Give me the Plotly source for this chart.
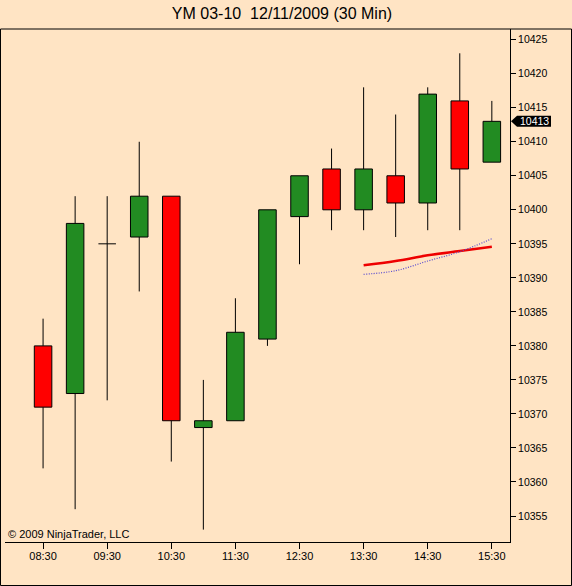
import pandas as pd
import plotly.graph_objects as go

# ---- data ----
times = pd.date_range("2009-12-11 08:30", "2009-12-11 15:30", freq="30min")
opens = [10380, 10373, 10395, 10396, 10402, 10368, 10369, 10381, 10399, 10406, 10400, 10405, 10401, 10416, 10407]
highs = [10384, 10402, 10402, 10410, 10402, 10375, 10387, 10400, 10405, 10409, 10418, 10414, 10418, 10423, 10416]
lows = [10362, 10356, 10372, 10388, 10363, 10353, 10369, 10380, 10392, 10397, 10397, 10396, 10397, 10397, 10407]
closes = [10371, 10398, 10395, 10402, 10369, 10369, 10382, 10400, 10405, 10400, 10406, 10401, 10417, 10406, 10413]

ma_times = times[-5:]
ma_red = [10391.84, 10392.47, 10393.31, 10393.94, 10394.58]
ma_blue = [10390.52, 10391.05, 10392.47, 10393.84, 10395.75]

last_price = 10413
title_text = "YM 03-10  12/11/2009 (30 Min)"
copyright_text = "© 2009 NinjaTrader, LLC"

# ---- styles ----
BG = "#FFE4C4"
UP = "#228B22"
DOWN = "#FF0000"
FONT = "Liberation Sans, Arial, sans-serif"
body_w = pd.Timedelta(minutes=16.4)

fig = go.Figure()

# wicks
wx, wy = [], []
for t, o, h, l, c in zip(times, opens, highs, lows, closes):
    top, bot = max(o, c), min(o, c)
    if h > top:
        wx += [t, t, None]
        wy += [top, h, None]
    if l < bot:
        wx += [t, t, None]
        wy += [l, bot, None]
    if o == c:
        wx += [t - body_w / 2, t + body_w / 2, None]
        wy += [o, o, None]
fig.add_trace(go.Scatter(x=wx, y=wy, mode="lines", line=dict(color="black", width=1),
                         hoverinfo="skip", showlegend=False))

# bodies
bx, by, bb, bc = [], [], [], []
for t, o, c in zip(times, opens, closes):
    if o == c:
        continue
    bx.append(t)
    by.append(abs(c - o))
    bb.append(min(o, c))
    bc.append(UP if c > o else DOWN)
fig.add_trace(go.Bar(x=bx, y=by, base=bb, width=body_w.total_seconds() * 1000,
                     marker=dict(color=bc, line=dict(color="black", width=1)),
                     showlegend=False))

# moving averages
fig.add_trace(go.Scatter(x=ma_times, y=ma_red, mode="lines",
                         line=dict(color="#EE0000", width=2.5, shape="spline"), showlegend=False))
fig.add_trace(go.Scatter(x=ma_times, y=ma_blue, mode="lines",
                         line=dict(color="#5548D0", width=1.2, dash="1px,1.5px", shape="spline"),
                         showlegend=False))

fig.update_layout(
    width=572, height=586,
    margin=dict(l=5, r=62, t=29, b=44),
    paper_bgcolor=BG, plot_bgcolor=BG,
    barmode="overlay",
    font=dict(family=FONT, color="black"),
    title=dict(text=title_text, x=0.493, xanchor="center", y=0.9775, yanchor="middle",
               font=dict(family=FONT, size=16, color="black")),
    xaxis=dict(
        type="date",
        range=["2009-12-11 07:54:22", "2009-12-11 15:47:00"],
        tick0="2009-12-11 08:30", dtick=3600000, tickformat="%H:%M",
        showgrid=False, zeroline=False,
        showline=True, linecolor="black", linewidth=1,
        ticks="outside", ticklen=6, tickcolor="black", tickwidth=1,
        ticklabelstandoff=-2,
        tickfont=dict(family=FONT, size=11, color="black"),
        automargin=False, fixedrange=True,
    ),
    yaxis=dict(
        side="right",
        range=[10351.18, 10426.57],
        tickmode="linear", tick0=10355, dtick=5, tickformat="d",
        showgrid=False, zeroline=False,
        showline=True, linecolor="black", linewidth=1,
        ticks="outside", ticklen=5, tickcolor="black", tickwidth=1,
        tickfont=dict(family=FONT, size=10.5, color="black"),
        automargin=False, fixedrange=True,
    ),
    shapes=[
        dict(type="rect", xref="paper", yref="paper",
             x0=(0.5 - 5) / 505, x1=(571.5 - 5) / 505,
             y0=(542 - 585.5) / 513, y1=1.0,
             line=dict(color="black", width=1), fillcolor="rgba(0,0,0,0)", layer="above"),
        dict(type="path", xref="paper", yref="y", xsizemode="pixel", ysizemode="pixel",
             xanchor=1, yanchor=last_price,
             path="M1,0 L7,5.5 L41,5.5 L41,-5.5 L7,-5.5 Z",
             fillcolor="black", line=dict(color="black", width=0), layer="above"),
    ],
    annotations=[
        dict(text=copyright_text, xref="paper", yref="paper", x=0, y=0,
             xanchor="left", yanchor="bottom", xshift=1, yshift=0, showarrow=False,
             font=dict(family=FONT, size=11, color="black")),
        dict(text=str(last_price), xref="paper", yref="y", x=(534 - 5) / 505, y=last_price,
             xanchor="center", yanchor="middle", showarrow=False,
             font=dict(family=FONT, size=10.5, color="white")),
    ],
)

fig.write_html("out.html", config={"displayModeBar": False},
               post_script="document.body.style.margin='0';document.body.style.overflow='hidden';")
